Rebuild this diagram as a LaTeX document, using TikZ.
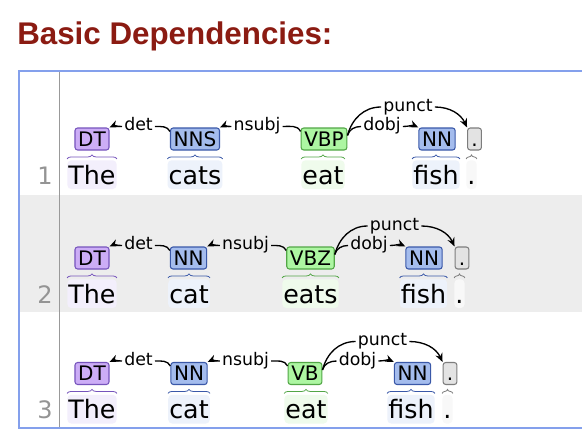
\documentclass[tikz,border=0pt]{standalone}
\usepackage{fontspec}
\setmainfont{DejaVu Sans}
\newfontfamily\titlefont{Liberation Sans}
\usetikzlibrary{arrows.meta,decorations.pathreplacing}
\definecolor{titlered}{RGB}{139,27,18}
\definecolor{frameblue}{RGB}{132,160,236}
\definecolor{rowgray}{RGB}{237,237,237}
\definecolor{dtfill}{RGB}{204,173,246}
\definecolor{dtline}{RGB}{118,84,188}
\definecolor{dtword}{RGB}{243,239,252}
\definecolor{nnfill}{RGB}{164,188,237}
\definecolor{nnline}{RGB}{58,88,168}
\definecolor{nnword}{RGB}{237,242,251}
\definecolor{vbfill}{RGB}{173,246,162}
\definecolor{vbline}{RGB}{82,166,70}
\definecolor{vbword}{RGB}{239,251,236}
\definecolor{pufill}{RGB}{227,227,227}
\definecolor{puline}{RGB}{125,125,125}
\definecolor{puword}{RGB}{248,248,248}
\tikzset{
    title/.style={anchor=base west,inner sep=0pt,text=titlered,font=\titlefont\bfseries\fontsize{23.5}{24}\selectfont},
    frame/.style={draw=frameblue,line width=1.5pt},
    gutter/.style={draw=black!40,line width=1.3pt},
    rownum/.style={anchor=base east,inner sep=0pt,text=black!42,font=\fontsize{18}{20}\selectfont},
    tag/.style={draw,rounded corners=2pt,line width=0.8pt,minimum height=16.5pt,inner xsep=2.4pt,inner ysep=0pt,
        text height=10.9pt,text depth=0pt,font=\fontsize{15}{15}\selectfont},
    tagDT/.style={tag,fill=dtfill,draw=dtline},
    tagNN/.style={tag,fill=nnfill,draw=nnline},
    tagVB/.style={tag,fill=vbfill,draw=vbline},
    tagPU/.style={tag,fill=pufill,draw=puline,inner xsep=2.8pt},
    word/.style={anchor=base,rounded corners=3pt,inner xsep=0.8pt,inner ysep=0.2pt,
        text height=17.6pt,text depth=3.6pt,font=\fontsize{19}{20}\selectfont},
    wordDT/.style={word,fill=dtword},
    wordNN/.style={word,fill=nnword},
    wordVB/.style={word,fill=vbword},
    wordPU/.style={word,fill=puword},
    brace/.style={decorate,decoration={brace,amplitude=3pt},line width=0.6pt},
    arclabel/.style={inner xsep=1.5pt,inner ysep=0pt,text height=9.5pt,text depth=2.8pt,font=\fontsize{13}{13}\selectfont},
    arcline/.style={line width=1pt},
    deparc/.style={-{Stealth[length=6.5pt,width=5.5pt]},line width=1pt}
}
\begin{document}
\begin{tikzpicture}[x=0.75pt,y=-0.75pt]
    \useasboundingbox[fill=white] (0,0) rectangle (582,446);
    \node[title] (title) at (17,44) {Basic Dependencies:};
    % table
    \fill[rowgray] (20,195) rectangle (582,312);
    \draw[gutter] (59.5,71) -- (59.5,428);
    \draw[frame] (582,71) -- (19,71) -- (19,428) -- (582,428);

    % sentence 1
    \node[rownum] (num1) at (53,184) {1};
    \node[wordDT] (wThe1) at (92,184) {The};
    \node[wordNN] (wCat1) at (195,184) {cats};
    \node[wordVB] (wEat1) at (323,184) {eat};
    \node[wordNN] (wFish1) at (436,184) {fish};
    \node[wordPU] (wDot1) at (471.5,184) {.};
    \node[tagDT] (tDT1) at (92,139) {DT};
    \node[tagNN] (tN1) at (195,139) {NNS};
    \node[tagVB] (tV1) at (324,139) {VBP};
    \node[tagNN] (tO1) at (437,139) {NN};
    \node[tagPU] (tP1) at (474.5,139) {.};
    \draw[brace,dtline] ([yshift=0.8pt]wThe1.north west) -- ([yshift=0.8pt]wThe1.north east);
    \draw[brace,nnline] ([yshift=0.8pt]wCat1.north west) -- ([yshift=0.8pt]wCat1.north east);
    \draw[brace,vbline] ([yshift=0.8pt]wEat1.north west) -- ([yshift=0.8pt]wEat1.north east);
    \draw[brace,nnline] ([yshift=0.8pt]wFish1.north west) -- ([yshift=0.8pt]wFish1.north east);
    \draw[brace,puline] ([yshift=0.8pt]wDot1.north west) -- ([yshift=0.8pt]wDot1.north east);
    \node[arclabel] (det1) at (138.5,126.5) {det};
    \node[arclabel] (nsubj1) at (257,126.5) {nsubj};
    \node[arclabel] (dobj1) at (382,126.5) {dobj};
    \node[arclabel] (punct1) at (408,107) {punct};
    \draw[deparc] (det1.west) to[out=180,in=25] (tDT1.north east);
    \draw[arcline] (det1.east) to[out=0,in=115] ([yshift=-3pt]tN1.north west);
    \draw[deparc] (nsubj1.west) to[out=180,in=25] (tN1.north east);
    \draw[arcline] (nsubj1.east) to[out=0,in=115] ([yshift=-3pt]tV1.north west);
    \draw[arcline] ([yshift=-6pt]tV1.north east) to[out=75,in=180] (dobj1.west);
    \draw[deparc] (dobj1.east) to[out=0,in=155] (tO1.north west);
    \draw[arcline] ([yshift=-6pt]tV1.north east) to[out=75,in=180] (punct1.west);
    \draw[deparc] (punct1.east) to[out=0,in=115] (tP1.north west);

    % sentence 2
    \begin{scope}[shift={(0,119)}]
    \node[rownum] (num2) at (53,184) {2};
    \node[wordDT] (wThe2) at (92,184) {The};
    \node[wordNN] (wCat2) at (189,184) {cat};
    \node[wordVB] (wEat2) at (310.5,184) {eats};
    \node[wordNN] (wFish2) at (423.5,184) {fish};
    \node[wordPU] (wDot2) at (459.5,184) {.};
    \node[tagDT] (tDT2) at (92,139) {DT};
    \node[tagNN] (tN2) at (188.5,139) {NN};
    \node[tagVB] (tV2) at (310.5,139) {VBZ};
    \node[tagNN] (tO2) at (424,139) {NN};
    \node[tagPU] (tP2) at (462,139) {.};
    \draw[brace,dtline] ([yshift=0.8pt]wThe2.north west) -- ([yshift=0.8pt]wThe2.north east);
    \draw[brace,nnline] ([yshift=0.8pt]wCat2.north west) -- ([yshift=0.8pt]wCat2.north east);
    \draw[brace,vbline] ([yshift=0.8pt]wEat2.north west) -- ([yshift=0.8pt]wEat2.north east);
    \draw[brace,nnline] ([yshift=0.8pt]wFish2.north west) -- ([yshift=0.8pt]wFish2.north east);
    \draw[brace,puline] ([yshift=0.8pt]wDot2.north west) -- ([yshift=0.8pt]wDot2.north east);
    \node[arclabel] (det2) at (138.5,126.5) {det};
    \node[arclabel] (nsubj2) at (245.5,126.5) {nsubj};
    \node[arclabel] (dobj2) at (369,126.5) {dobj};
    \node[arclabel] (punct2) at (394.5,107) {punct};
    \draw[deparc] (det2.west) to[out=180,in=25] (tDT2.north east);
    \draw[arcline] (det2.east) to[out=0,in=115] ([yshift=-3pt]tN2.north west);
    \draw[deparc] (nsubj2.west) to[out=180,in=25] (tN2.north east);
    \draw[arcline] (nsubj2.east) to[out=0,in=115] ([yshift=-3pt]tV2.north west);
    \draw[arcline] ([yshift=-6pt]tV2.north east) to[out=75,in=180] (dobj2.west);
    \draw[deparc] (dobj2.east) to[out=0,in=155] (tO2.north west);
    \draw[arcline] ([yshift=-6pt]tV2.north east) to[out=75,in=180] (punct2.west);
    \draw[deparc] (punct2.east) to[out=0,in=115] (tP2.north west);
    \end{scope}

    % sentence 3
    \begin{scope}[shift={(0,234.5)}]
    \node[rownum] (num3) at (53,184) {3};
    \node[wordDT] (wThe3) at (92,184) {The};
    \node[wordNN] (wCat3) at (189,184) {cat};
    \node[wordVB] (wEat3) at (306,184) {eat};
    \node[wordNN] (wFish3) at (411,184) {fish};
    \node[wordPU] (wDot3) at (447.5,184) {.};
    \node[tagDT] (tDT3) at (92,139) {DT};
    \node[tagNN] (tN3) at (189,139) {NN};
    \node[tagVB] (tV3) at (305,139) {VB};
    \node[tagNN] (tO3) at (412.5,139) {NN};
    \node[tagPU] (tP3) at (450,139) {.};
    \draw[brace,dtline] ([yshift=0.8pt]wThe3.north west) -- ([yshift=0.8pt]wThe3.north east);
    \draw[brace,nnline] ([yshift=0.8pt]wCat3.north west) -- ([yshift=0.8pt]wCat3.north east);
    \draw[brace,vbline] ([yshift=0.8pt]wEat3.north west) -- ([yshift=0.8pt]wEat3.north east);
    \draw[brace,nnline] ([yshift=0.8pt]wFish3.north west) -- ([yshift=0.8pt]wFish3.north east);
    \draw[brace,puline] ([yshift=0.8pt]wDot3.north west) -- ([yshift=0.8pt]wDot3.north east);
    \node[arclabel] (det3) at (138.5,126.5) {det};
    \node[arclabel] (nsubj3) at (245.5,126.5) {nsubj};
    \node[arclabel] (dobj3) at (357.5,126.5) {dobj};
    \node[arclabel] (punct3) at (382.5,107) {punct};
    \draw[deparc] (det3.west) to[out=180,in=25] (tDT3.north east);
    \draw[arcline] (det3.east) to[out=0,in=115] ([yshift=-3pt]tN3.north west);
    \draw[deparc] (nsubj3.west) to[out=180,in=25] (tN3.north east);
    \draw[arcline] (nsubj3.east) to[out=0,in=115] ([yshift=-3pt]tV3.north west);
    \draw[arcline] ([yshift=-6pt]tV3.north east) to[out=75,in=180] (dobj3.west);
    \draw[deparc] (dobj3.east) to[out=0,in=155] (tO3.north west);
    \draw[arcline] ([yshift=-6pt]tV3.north east) to[out=75,in=180] (punct3.west);
    \draw[deparc] (punct3.east) to[out=0,in=115] (tP3.north west);
    \end{scope}
\end{tikzpicture}
\end{document}
